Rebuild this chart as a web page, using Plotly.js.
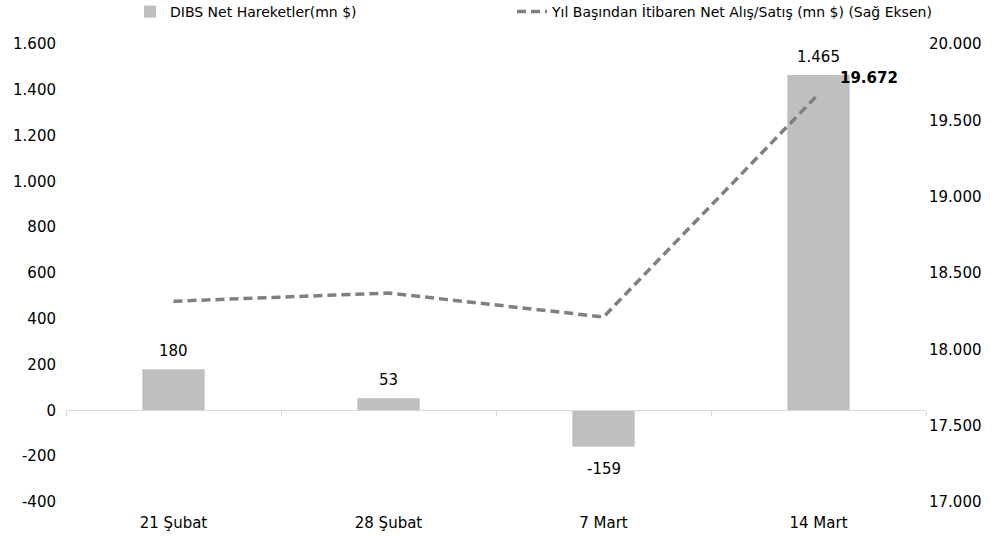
<!DOCTYPE html>
<html>
<head>
<meta charset="utf-8">
<script src="https://cdn.plot.ly/plotly-3.0.1.min.js"></script>
<style>html,body{margin:0;padding:0;background:#fff}#chart{width:1000px;height:537px}</style>
</head>
<body>
<div id="chart"></div>
<script>
const categories = ['21 Şubat', '28 Şubat', '7 Mart', '14 Mart'];
const netMoves = [180, 53, -159, 1465];
const cumulative = [18315, 18369, 18212, 19672];
const leftTicks = [-400, -200, 0, 200, 400, 600, 800, 1000, 1200, 1400, 1600];
const rightTicks = [17000, 17500, 18000, 18500, 19000, 19500, 20000];
const barName = 'DIBS Net Hareketler(mn $)';
const lineName = 'Yıl Başından İtibaren Net Alış/Satış (mn $) (Sağ Eksen)';

const fmt = v => v.toLocaleString('de-DE').replace('\u2212', '-');
const FONT = 'DejaVu Sans, sans-serif';
const NUM = 15;

const traces = [
  {
    type: 'bar', name: barName, x: categories, y: netMoves,
    marker: {color: '#bfbfbf'}, hoverinfo: 'skip', legend: 'legend'
  },
  {
    type: 'scatter', mode: 'lines', name: lineName, x: categories, y: cumulative,
    yaxis: 'y2', line: {color: '#808080', width: 3.5, dash: '9px,5px'}, cliponaxis: false,
    legend: 'legend2'
  },
  {
    type: 'scatter', mode: 'none', x: categories, y: netMoves, xaxis: 'x2',
    showlegend: false, hoverinfo: 'skip'
  }
];

const last = cumulative.length - 1;
const annotations = netMoves.map((v, i) => ({
  x: categories[i], y: v, xref: 'x', yref: 'y', text: fmt(v), showarrow: false,
  yshift: v >= 0 ? 18 : -22, font: {size: NUM, color: '#000'}
}));
annotations.push({
  x: categories[last], y: cumulative[last], xref: 'x', yref: 'y2',
  text: '<b>' + fmt(cumulative[last]) + '</b>', showarrow: false,
  xshift: 50, yshift: 16, font: {size: NUM, color: '#000'}
});

const legendBase = {orientation: 'h', xref: 'container', yref: 'container', xanchor: 'left',
                    y: 1 - 12 / 537, yanchor: 'middle', font: {size: 14}, bgcolor: 'rgba(0,0,0,0)'};

const yMin = -400, yMax = 1600;
const layout = {
  width: 1000, height: 537,
  margin: {l: 66, r: 74, t: 44, b: 35, autoexpand: false},
  paper_bgcolor: '#fff', plot_bgcolor: '#fff',
  font: {family: FONT, size: 14, color: '#000'},
  bargap: 0.71,
  showlegend: true,
  legend: Object.assign({}, legendBase, {x: 0.13}),
  legend2: Object.assign({}, legendBase, {x: 0.512}),
  annotations: annotations,
  xaxis: {type: 'category', showline: false, ticks: '', showgrid: false, tickfont: {size: NUM},
          range: [-0.5, 3.5], ticklabelstandoff: 10},
  xaxis2: {type: 'category', overlaying: 'x', anchor: 'free', position: (0 - yMin) / (yMax - yMin),
           showline: true, linecolor: '#d9d9d9', linewidth: 1, ticks: 'outside', ticklen: 5,
           tickcolor: '#d9d9d9', tickson: 'boundaries', showticklabels: false, showgrid: false,
           range: [-0.5, 3.5], side: 'bottom'},
  yaxis: {range: [yMin, yMax], tickvals: leftTicks, ticktext: leftTicks.map(fmt), showgrid: false,
          zeroline: false, showline: false, ticks: '', tickfont: {size: NUM}, ticklabelstandoff: 9},
  yaxis2: {range: [17000, 20000], tickvals: rightTicks, ticktext: rightTicks.map(fmt), overlaying: 'y',
           side: 'right', showgrid: false, zeroline: false, showline: false, ticks: '',
           tickfont: {size: NUM}, ticklabelstandoff: 2}
};

Plotly.newPlot('chart', traces, layout, {displayModeBar: false, staticPlot: true});
</script>
</body>
</html>
